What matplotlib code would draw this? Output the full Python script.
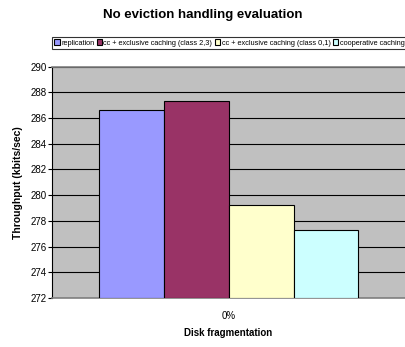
import numpy as np
import matplotlib.pyplot as plt

plt.rcParams['font.family'] = ['Liberation Sans', 'DejaVu Sans']

# data
series = ["replication", "cc + exclusive caching (class 2,3)",
          "cc + exclusive caching (class 0,1)", "cooperative caching"]
values = [286.6, 287.3, 279.2, 277.3]
colors = ["#9999FF", "#993366", "#FFFFCC", "#CCFFFF"]
categories = ["0%"]
yticks = np.arange(272, 291, 2)

fig = plt.figure(figsize=(4.06, 3.47), dpi=100)
ax = fig.add_axes([0.128, 0.141, 0.87, 0.667])
ax.set_facecolor("#C0C0C0")

offsets = np.arange(len(series)) - (len(series) - 1) / 2
handles = []
for off, v, c, name in zip(offsets, values, colors, series):
    b = ax.bar(off, v - 272, bottom=272, width=1.0, color=c,
               edgecolor="black", linewidth=0.8, label=name, zorder=3)
    handles.append(b)

ax.set_ylim(272, 290)
ax.set_xlim(-2.72, 2.72)
ax.set_yticks(yticks)
ax.set_yticklabels([str(t) for t in yticks], fontsize=7)
ax.yaxis.grid(True, color="black", linewidth=0.8, zorder=0)
ax.set_axisbelow(True)
ax.set_xticks([0])
ax.set_xticklabels(categories, fontsize=7)
ax.tick_params(axis="x", length=0, pad=9)
ax.tick_params(axis="y", length=3, width=0.8, pad=1)

ax.spines["right"].set_visible(False)
ax.spines["top"].set_color("#808080")
ax.spines["top"].set_linewidth(1.2)
ax.spines["bottom"].set_color("#808080")
ax.spines["bottom"].set_linewidth(1.2)
ax.spines["left"].set_color("black")
ax.spines["left"].set_linewidth(0.8)

ax.set_ylabel("Throughput (kbits/sec)", fontsize=7.5, fontweight="bold", labelpad=5)
ax.set_xlabel("Disk fragmentation", fontsize=7, fontweight="bold", labelpad=5)

fig.text(0.5, 0.958, "No eviction handling evaluation", ha="center", va="center",
         fontsize=9.5, fontweight="bold")

leg = fig.legend(handles=handles, labels=series, loc="center",
                 bbox_to_anchor=(0.565, 0.876), ncol=4, fontsize=5.3,
                 frameon=True, fancybox=False, edgecolor="black",
                 handlelength=0.7, handleheight=0.7, handletextpad=0.2,
                 columnspacing=0.35, borderpad=0.3, borderaxespad=0)
leg.get_frame().set_linewidth(0.8)

fig.savefig("out.png", dpi=100)
